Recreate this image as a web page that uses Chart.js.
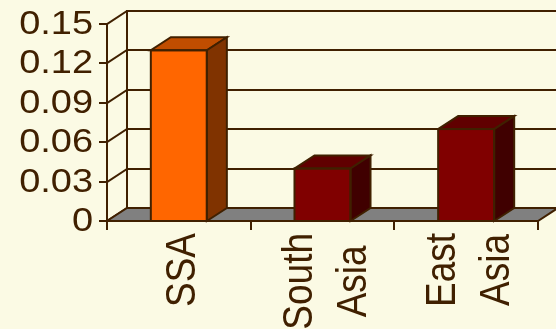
<!DOCTYPE html>
<html>
<head>
<meta charset="utf-8">
<script src="https://cdn.jsdelivr.net/npm/chart.js@4/dist/chart.umd.min.js"></script>
<style>
  html, body { margin: 0; padding: 0; background: #FBFAE4; }
  canvas { display: block; }
</style>
</head>
<body>
<canvas id="chart" width="556" height="329"></canvas>
<script>
// regions and their values
const categories = [['SSA'], ['South', 'Asia'], ['East', 'Asia']]
const values = [0.13, 0.04, 0.07]
const yTicks = [0, 0.03, 0.06, 0.09, 0.12, 0.15]
const yTickLabels = ['0', '0.03', '0.06', '0.09', '0.12', '0.15']

// face colours per bar: front, top, side
const frontColors = ['#FF6600', '#800000', '#800000']
const topColors = ['#C04D00', '#600000', '#600000']
const sideColors = ['#803300', '#400000', '#400000']

const INK = '#402000'
const BG = '#FBFAE4'
const FLOOR = '#808080'
const DX = 20, DY = -13   // depth offset of the 3d box
const FONT = '"Liberation Sans", Arial, sans-serif'
const STRETCH = 1.15      // text is drawn slightly wide

const box3d = {
  id: 'box3d',
  beforeDraw (chart) {
    const { ctx, width, height } = chart
    ctx.save()
    ctx.fillStyle = BG
    ctx.fillRect(0, 0, width, height)
    ctx.restore()
  },
  beforeDatasetsDraw (chart) {
    const { ctx, chartArea: a, scales: { y } } = chart
    ctx.save()
    ctx.strokeStyle = INK
    ctx.lineWidth = 2
    ctx.lineCap = 'square'

    // back wall gridlines and the left wall diagonals
    yTicks.forEach(v => {
      const py = Math.round(y.getPixelForValue(v))
      ctx.beginPath()
      ctx.moveTo(a.left, py)
      ctx.lineTo(a.left + DX, py + DY)
      ctx.lineTo(a.right + DX + 4, py + DY)
      ctx.stroke()
    })
    ctx.beginPath()
    ctx.moveTo(a.left + DX, y.getPixelForValue(0.15) + DY)
    ctx.lineTo(a.left + DX, a.bottom + DY)
    ctx.stroke()

    // floor
    ctx.beginPath()
    ctx.moveTo(a.left, a.bottom)
    ctx.lineTo(a.right, a.bottom)
    ctx.lineTo(a.right + DX, a.bottom + DY)
    ctx.lineTo(a.left + DX, a.bottom + DY)
    ctx.closePath()
    ctx.fillStyle = FLOOR
    ctx.fill()
    ctx.stroke()

    // front value axis with its ticks
    ctx.beginPath()
    ctx.moveTo(a.left, y.getPixelForValue(0.15))
    ctx.lineTo(a.left, a.bottom + 8)
    yTicks.forEach(v => {
      const py = Math.round(y.getPixelForValue(v))
      ctx.moveTo(a.left - 7, py)
      ctx.lineTo(a.left, py)
    })
    // category ticks on the front edge
    const step = (a.right - a.left) / categories.length
    for (let i = 1; i <= categories.length; i++) {
      const px = Math.round(a.left + i * step)
      ctx.moveTo(px, a.bottom)
      ctx.lineTo(px, a.bottom + 8)
    }
    ctx.stroke()
    ctx.restore()
  },
  afterDatasetsDraw (chart) {
    const { ctx } = chart
    const bars = chart.getDatasetMeta(0).data
    ctx.save()
    ctx.strokeStyle = INK
    ctx.lineWidth = 2
    ctx.lineJoin = 'miter'
    bars.forEach((bar, i) => {
      const { x, y, width, base } = bar.getProps(['x', 'y', 'width', 'base'], true)
      const l = x - width / 2, r = x + width / 2
      // top face
      ctx.beginPath()
      ctx.moveTo(l, y)
      ctx.lineTo(r, y)
      ctx.lineTo(r + DX, y + DY)
      ctx.lineTo(l + DX, y + DY)
      ctx.closePath()
      ctx.fillStyle = topColors[i]
      ctx.fill()
      ctx.stroke()
      // side face
      ctx.beginPath()
      ctx.moveTo(r, y)
      ctx.lineTo(r + DX, y + DY)
      ctx.lineTo(r + DX, base + DY)
      ctx.lineTo(r, base)
      ctx.closePath()
      ctx.fillStyle = sideColors[i]
      ctx.fill()
      ctx.stroke()
      // front outline
      ctx.strokeRect(l, y, width, base - y)
    })
    ctx.restore()
  },
  afterDraw (chart) {
    const { ctx, chartArea: a, scales: { x, y } } = chart
    ctx.save()
    ctx.fillStyle = INK

    // value labels
    ctx.font = '33px ' + FONT
    ctx.textAlign = 'right'
    ctx.textBaseline = 'middle'
    yTicks.forEach((v, i) => {
      ctx.save()
      ctx.translate(93, y.getPixelForValue(v) + 1)
      ctx.scale(STRETCH, 1)
      ctx.fillText(yTickLabels[i], 0, 0)
      ctx.restore()
    })

    // category labels, rotated, lines centred in a block ending at 233
    ctx.font = '37px ' + FONT
    ctx.textAlign = 'center'
    ctx.textBaseline = 'alphabetic'
    categories.forEach((lines, i) => {
      const cx = x.getPixelForValue(i)
      const blockW = Math.max(...lines.map(s => ctx.measureText(s).width))
      lines.forEach((s, j) => {
        const bx = cx + 16 + (j - (lines.length - 1) / 2) * 54
        ctx.save()
        ctx.translate(bx, a.bottom + 12 + blockW / 2)
        ctx.scale(STRETCH, 1)
        ctx.rotate(-Math.PI / 2)
        ctx.fillText(s, 0, 0)
        ctx.restore()
      })
    })
    ctx.restore()
  }
}

new Chart(document.getElementById('chart'), {
  type: 'bar',
  data: {
    labels: categories,
    datasets: [{
      data: values,
      backgroundColor: frontColors,
      borderWidth: 0,
      categoryPercentage: 1,
      barPercentage: 0.39
    }]
  },
  options: {
    responsive: false,
    animation: false,
    devicePixelRatio: 1,
    events: [],
    layout: { padding: { left: 107, right: 18, top: 24, bottom: 108 } },
    scales: {
      x: { display: false },
      y: { display: false, min: 0, max: 0.15 }
    },
    plugins: { legend: { display: false }, tooltip: { enabled: false } }
  },
  plugins: [box3d]
})
</script>
</body>
</html>
